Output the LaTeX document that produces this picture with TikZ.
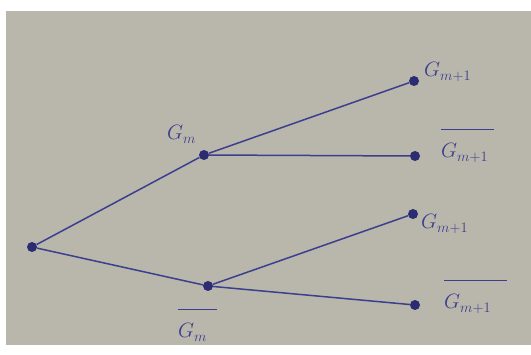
\documentclass[tikz,border=0pt]{standalone}
\usepackage{amsmath}
\definecolor{paper}{HTML}{B9B6AC}
\definecolor{ink}{HTML}{3C3F8E}
\definecolor{dotink}{HTML}{2B2C72}
\newcommand\barlab[2][0pt]{\overline{\rule{0pt}{26pt}#2\hspace{#1}}}
\tikzset{
  dotnode/.style={circle,fill=dotink,draw=none,minimum size=10pt,inner sep=0pt},
  branch/.style={ink,line width=1.5pt},
  lab/.style={anchor=base west,inner sep=0pt,text=ink,font=\fontsize{21}{25}\selectfont}
}
\begin{document}
\begin{tikzpicture}[x=1pt,y=-1pt]
\useasboundingbox (0,0) rectangle (531,355);
\fill[white] (0,0) rectangle (531,355);
\fill[paper] (6,11) rectangle (531,345);
% nodes
\node[dotnode] (r) at (32,247) {};
\node[dotnode] (a) at (204,155) {};
\node[dotnode] (b) at (208,286) {};
\node[dotnode] (l1) at (414,81) {};
\node[dotnode] (l2) at (415,156) {};
\node[dotnode] (l3) at (413,214) {};
\node[dotnode] (l4) at (415,305) {};
% branches
\draw[branch] (r) -- (a);
\draw[branch] (r) -- (b);
\draw[branch] (a) -- (l1);
\draw[branch] (a) -- (l2);
\draw[branch] (b) -- (l3);
\draw[branch] (b) -- (l4);
% labels
\node[lab] (ta) at (167,140) {$G_m$};
\node[lab] (tb) at (178,338) {$\barlab[10pt]{G_m}$};
\node[lab] (t1) at (424,77) {$G_{m+1}$};
\node[lab] (t2) at (441,158) {$\barlab[6pt]{G_{m+1}}$};
\node[lab] (t3) at (421,229) {$G_{m+1}$};
\node[lab] (t4) at (444,309) {$\barlab[16pt]{G_{m+1}}$};
\end{tikzpicture}
\end{document}
